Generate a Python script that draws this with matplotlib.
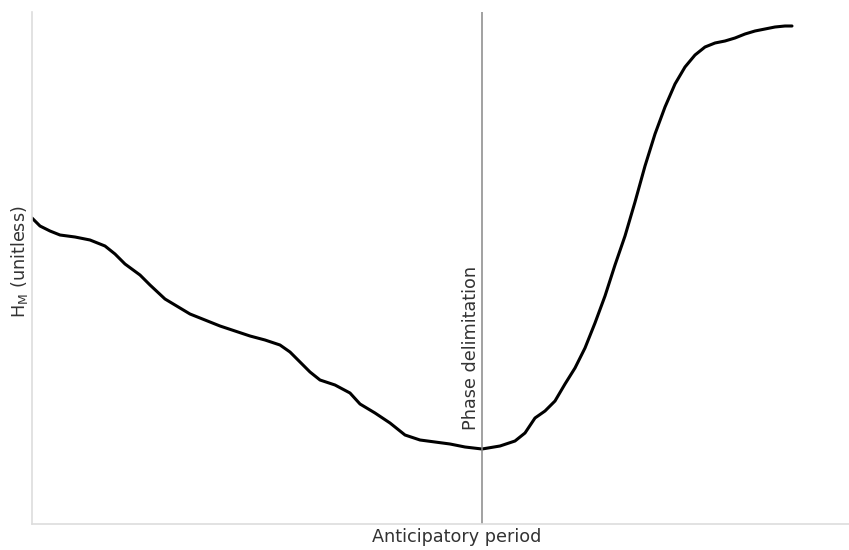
import matplotlib
matplotlib.use("Agg")
import matplotlib.pyplot as plt
import numpy as np

# curve samples (x position in period units, H_M value, arbitrary units)
x_vals = [0, 8, 18, 28, 43, 58, 73, 83, 93, 108, 118, 133, 148, 158, 173, 188, 203, 218,
          233, 248, 258, 268, 278, 288, 303, 318, 328, 343, 358, 373, 388, 403, 418, 433,
          450, 468, 483, 493, 503, 513, 523, 533, 543, 553, 563, 573, 583, 593, 603, 613,
          623, 633, 643, 653, 663, 673, 683, 693, 703, 713, 723, 733, 743, 753, 760]
h_vals = [306, 298, 293, 289, 287, 284, 278, 270, 260, 249, 239, 225, 216, 210, 204, 198,
          193, 188, 184, 179, 172, 162, 152, 144, 139, 131, 120, 111, 101, 89, 84, 82,
          80, 77, 75, 78, 83, 91, 106, 113, 123, 140, 156, 176, 201, 228, 259, 288,
          322, 358, 390, 417, 440, 457, 469, 477, 481, 483, 486, 490, 493, 495, 497, 498, 498]
phase_x = 450
x_label = "Anticipatory period"
y_label = r"H$_\mathrm{M}$ (unitless)"
phase_label = "Phase delimitation"

fig = plt.figure(figsize=(8.49, 5.5), dpi=100)
ax = fig.add_axes([32/849, 1-524/550, 1-32/849, (524-12)/550])
ax.plot(x_vals, h_vals, color="black", lw=2.2, solid_capstyle="round",
        solid_joinstyle="round")
ax.axvline(phase_x, color="#888888", lw=1.1)
ax.text(phase_x - 1.5, 94, phase_label, rotation=90, ha="right", va="bottom",
        fontsize=12.7, color="#333333")
ax.set_xlim(0, 817)
ax.set_ylim(0, 512)
ax.set_xticks([])
ax.set_yticks([])
for s in ["top", "right"]:
    ax.spines[s].set_visible(False)
for s in ["left", "bottom"]:
    ax.spines[s].set_color("#dddddd")
    ax.spines[s].set_linewidth(1.2)
ax.set_xlabel(x_label, fontsize=12.7, color="#333333")
ax.set_ylabel(y_label, fontsize=12.7, color="#333333")
ax.xaxis.set_label_coords(0.52, -0.008, transform=ax.transAxes)
ax.xaxis.label.set_va("top")
ax.yaxis.set_label_coords(-0.0027, 0.513, transform=ax.transAxes)
ax.yaxis.label.set_va("bottom")
fig.savefig("out.png", dpi=100)
